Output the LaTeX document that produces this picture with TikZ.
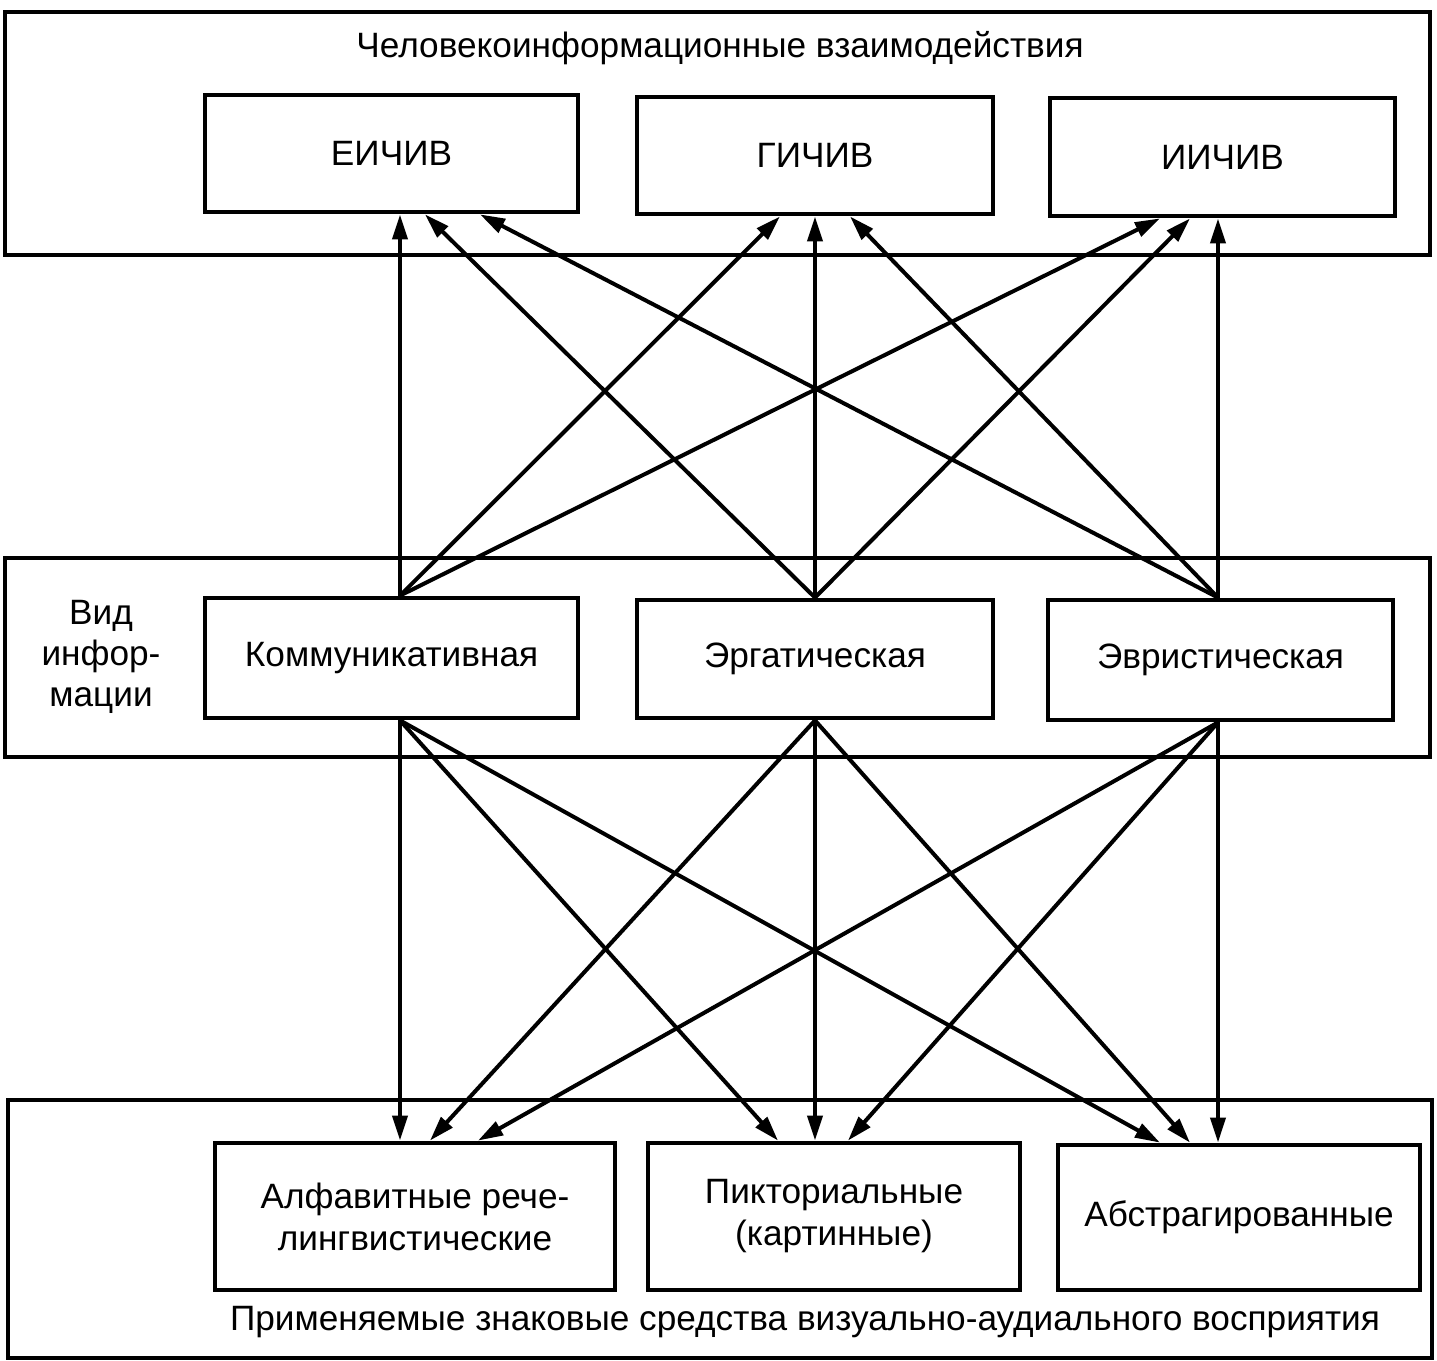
\documentclass[tikz,border=0pt]{standalone}
\usepackage{fontspec}
\setmainfont{Liberation Sans}
\usetikzlibrary{arrows.meta,calc}
\begin{document}
\begin{tikzpicture}[x=0.5pt,y=-0.5pt,
 box/.style={draw,line width=2.4pt,inner sep=0pt,align=center,font=\fontsize{17.6}{21}\selectfont},
 frame/.style={draw,line width=2.4pt,inner sep=0pt},
 arr/.style={line width=2pt,-{Triangle[length=12.5pt,width=7.5pt]}},
 lbl/.style={font=\fontsize{17.6}{20.5}\selectfont,align=center}]
\useasboundingbox (0,0) rectangle (1437,1361);
% outer frames
\node[frame,minimum width=712.5pt,minimum height=121.5pt] (O1) at (717.5,133.5) {};
\node[frame,minimum width=712.5pt,minimum height=99.5pt] (O2) at (717.5,657.5) {};
\node[frame,minimum width=712pt,minimum height=129pt] (O3) at (720,1229) {};
% labels
\node[lbl] (T1) at (720,48) {Человекоинформационные взаимодействия};
\node[lbl] (T2) at (101,657) {Вид\\инфор-\\мации};
\node[lbl] (T3) at (805,1322) {Применяемые знаковые средства визуально-аудиального восприятия};
% top boxes
\node[box,minimum width=186.5pt,minimum height=58.5pt] (E) at (391.5,153.5) {ЕИЧИВ};
\node[box,minimum width=178pt,minimum height=58.5pt] (G) at (815,155.5) {ГИЧИВ};
\node[box,minimum width=172.5pt,minimum height=59pt] (I) at (1222.5,157) {ИИЧИВ};
% middle boxes
\node[box,minimum width=186.5pt,minimum height=60pt] (K) at (391.5,658) {Коммуникативная};
\node[box,minimum width=178pt,minimum height=59pt] (R) at (815,659) {Эргатическая};
\node[box,minimum width=172.5pt,minimum height=60pt] (V) at (1220.5,660) {Эвристическая};
% bottom boxes
\node[box,minimum width=200pt,minimum height=73.5pt] (A) at (415,1216.5) {Алфавитные рече-\\лингвистические};
\node[box,minimum width=186pt,minimum height=73.5pt] (P) at (834,1216.5) {Пикториальные\\(картинные)};
\node[box,minimum width=181pt,minimum height=72.5pt] (B) at (1239,1217.5) {Абстрагированные};
% upper arrows
\draw[arr] ($(K.north)+(8.5,0)$) -- ($(E.south)+(8.5,0)$);
\draw[arr] ($(K.north)+(8.5,0)$) -- ($(G.south)+(-35,0)$);
\draw[arr] ($(K.north)+(8.5,0)$) -- ($(I.south)+(-62.5,0)$);
\draw[arr] (R.north) -- ($(E.south)+(33.5,0)$);
\draw[arr] (R.north) -- (G.south);
\draw[arr] (R.north) -- ($(I.south)+(-32.5,0)$);
\draw[arr] ($(V.north)+(-2.5,0)$) -- ($(E.south)+(88.5,0)$);
\draw[arr] ($(V.north)+(-2.5,0)$) -- ($(G.south)+(35,0)$);
\draw[arr] ($(V.north)+(-2.5,0)$) -- ($(I.south)+(-4.5,0)$);
% lower arrows
\draw[arr] ($(K.south)+(8.5,0)$) -- ($(A.north)+(-15,0)$);
\draw[arr] ($(K.south)+(8.5,0)$) -- ($(P.north)+(-56,0)$);
\draw[arr] ($(K.south)+(8.5,0)$) -- ($(B.north)+(-79,0)$);
\draw[arr] (R.south) -- ($(A.north)+(15,0)$);
\draw[arr] (R.south) -- ($(P.north)+(-19,0)$);
\draw[arr] (R.south) -- ($(B.north)+(-49,0)$);
\draw[arr] ($(V.south)+(-2.5,0)$) -- ($(A.north)+(63,0)$);
\draw[arr] ($(V.south)+(-2.5,0)$) -- ($(P.north)+(14,0)$);
\draw[arr] ($(V.south)+(-2.5,0)$) -- ($(B.north)+(-21,0)$);
\end{tikzpicture}
\end{document}
